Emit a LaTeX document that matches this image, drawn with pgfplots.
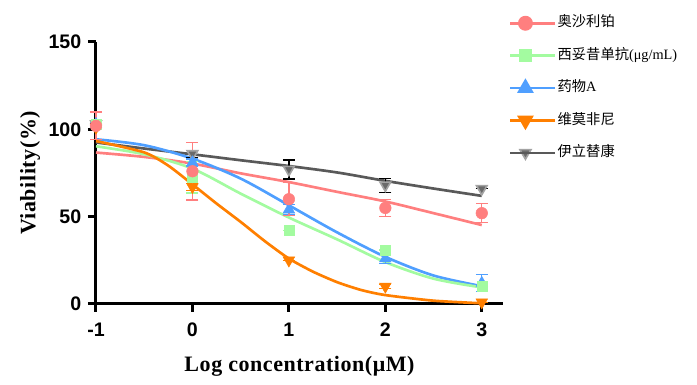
\documentclass[border=0pt]{standalone}
\usepackage{fontspec}
\setmainfont{Liberation Serif}
\setsansfont{Liberation Sans}
\newfontfamily\cjk{Noto Sans CJK SC}
\newfontfamily\labelfont[LetterSpace=2.5]{Liberation Serif}
\usepackage{pgfplots}
\pgfplotsset{compat=1.18}
\definecolor{cred}{HTML}{FF7F7F}
\definecolor{cgreen}{HTML}{A3FBA0}
\definecolor{cblue}{HTML}{4F9FFF}
\definecolor{corange}{HTML}{FF7F00}
\definecolor{cgrayline}{HTML}{595959}
\definecolor{cgraymark}{HTML}{6A6A6A}
\definecolor{cgrayedge}{HTML}{A3A3A3}

% fitted curves
\pgfplotstableread{
x gray red blue green
-1 92.5 86.7 94.3 90.3
-0.5 89 84.2 90.9 85.7
0 85.7 80.4 83.2 77.5
0.5 82.3 74.8 71.8 63.2
1 79 69.8 56.5 49.5
1.5 75.3 64.2 41 37
2 70.5 58.7 27 24
2.5 66.1 52 16.3 14.5
3 61.9 45.2 10.2 9.5
}\curves
\pgfplotstableread{
x y
-1 93.3
-0.5 86.8
-0.25 79.2
0 68.5
0.25 57.5
0.5 47
0.75 36
1 26
1.25 18.5
1.5 12.5
1.75 8
2 5.1
2.5 1.9
3 0.4
}\orangecurve
% measured points with error
\pgfplotstableread{
x y e
-1 102 8
0 76 16.5
1 60 9.5
2 55 5
3 52 5.5
}\redpts
\pgfplotstableread{
x y e
-1 103 2
0 72.5 9
1 42 0
2 31 0
3 10 0
}\greenpts
\pgfplotstableread{
x y e
-1 103 1
0 81 2
1 54 3
2 26 3
3 12 5
}\bluepts
\pgfplotstableread{
x y e
-1 101 0
0 67 2
1 25 0
2 10 1
3 1 0
}\orangepts
\pgfplotstableread{
x y e
-1 103 0
0 86 2
1 77 5.5
2 68 4
3 66 0
}\graypts

\begin{document}
\begin{tikzpicture}
\path[use as bounding box] (-72pt,-60.75pt) rectangle (450.75pt,228pt);
\begin{axis}[
  at={(0,0)}, anchor=south west,
  scale only axis,
  width=305.25pt, height=196.5pt,
  xmin=-1, xmax=3.22, ymin=0, ymax=150,
  axis x line*=bottom, axis y line*=left,
  axis line style={line width=2.25pt, -},
  tick align=outside,
  major tick length=6pt,
  tick style={line width=2.25pt, black},
  xtick={-1,0,1,2,3}, xticklabels={-1,0,1,2,3},
  ytick={0,50,100,150}, yticklabels={0,50,100,150},
  tick label style={font=\sffamily\bfseries\fontsize{14.7}{16}\selectfont},
  xticklabel style={yshift=-4.5pt},
  yticklabel style={xshift=-1.5pt},
  xlabel={Log concentration(μM)},
  ylabel={Viability(\%)},
  label style={font=\labelfont\bfseries\fontsize{16.5}{18}\selectfont},
  xlabel style={at={(axis description cs:0.5,0)}, anchor=center, yshift=-46.5pt},
  ylabel style={at={(axis description cs:0,0.5)}, anchor=center, yshift=49.5pt},
  clip=false,
  legend style={at={(axis description cs:1,1)}, anchor=north west,
    xshift=4.25pt, yshift=20.5pt, draw=none, fill=none, inner sep=0pt,
    font=\fontsize{10.7}{13}\selectfont, row sep=11.8pt,
    nodes={inner sep=1pt, text height=8pt, text depth=2.5pt}},
  legend cell align=left,
  legend image code/.code={
    \draw[#1, mark repeat=2, mark phase=2] plot coordinates {(0cm,0cm) (0.4cm,0cm) (0.8cm,0cm)};
    \path (0cm,0cm) -- (1.18cm,0cm);
  },
]
% legend entries
\addlegendimage{cred, line width=2pt, mark=*, mark size=4.6pt, mark options={solid, fill=cred, draw=cred}}
\addlegendentry{{\cjk 奥沙利铂}}
\addlegendimage{cgreen, line width=2pt, mark=square*, mark size=4pt, mark options={solid, fill=cgreen, draw=cgreen}}
\addlegendentry{{\cjk 西妥昔单抗}(μg/mL)}
\addlegendimage{cblue, line width=2pt, mark=triangle*, mark size=5.3pt, mark options={solid, fill=cblue, draw=cblue}}
\addlegendentry{{\cjk 药物}A}
\addlegendimage{corange, line width=2pt, mark=triangle*, mark size=5.3pt, mark options={solid, fill=corange, draw=corange, rotate=180}}
\addlegendentry{{\cjk 维莫非尼}}
\addlegendimage{cgrayline, line width=2pt, mark=triangle*, mark size=4.8pt, mark options={solid, fill=cgraymark, draw=cgrayedge, line width=1.2pt, rotate=180}}
\addlegendentry{{\cjk 伊立替康}}

% curves
\addplot[forget plot, cgrayline, line width=2pt, smooth] table[x=x, y=gray] {\curves};
\addplot[forget plot, cred, line width=2pt, smooth] table[x=x, y=red] {\curves};
\addplot[forget plot, cblue, line width=2pt, smooth] table[x=x, y=blue] {\curves};
\addplot[forget plot, cgreen, line width=2pt, smooth] table[x=x, y=green] {\curves};
\addplot[forget plot, corange, line width=2pt, smooth, tension=0.4] table[x=x, y=y] {\orangecurve};

% points with error bars
\addplot[forget plot, only marks, mark=triangle*, mark size=4.6pt,
  mark options={fill=cgraymark, draw=cgrayedge, line width=1.2pt, rotate=180},
  error bars/.cd, y dir=both, y explicit,
  error bar style={line width=1pt, black},
  error mark options={rotate=90, mark size=4.5pt, line width=1pt, black}]
  table[x=x, y=y, y error=e] {\graypts};
\addplot[forget plot, only marks, mark=triangle*, mark size=5pt,
  mark options={fill=corange, draw=corange, rotate=180},
  error bars/.cd, y dir=both, y explicit,
  error bar style={line width=1pt, corange},
  error mark options={rotate=90, mark size=4.5pt, line width=1pt, corange}]
  table[x=x, y=y, y error=e] {\orangepts};
\addplot[forget plot, only marks, mark=triangle*, mark size=5pt,
  mark options={fill=cblue, draw=cblue},
  error bars/.cd, y dir=both, y explicit,
  error bar style={line width=1pt, cblue},
  error mark options={rotate=90, mark size=4.5pt, line width=1pt, cblue}]
  table[x=x, y=y, y error=e] {\bluepts};
\addplot[forget plot, only marks, mark=square*, mark size=3.75pt,
  mark options={fill=cgreen, draw=cgreen},
  error bars/.cd, y dir=both, y explicit,
  error bar style={line width=1pt, cgreen},
  error mark options={rotate=90, mark size=4.5pt, line width=1pt, cgreen}]
  table[x=x, y=y, y error=e] {\greenpts};
\addplot[forget plot, only marks, mark=*, mark size=4.35pt,
  mark options={fill=cred, draw=cred},
  error bars/.cd, y dir=both, y explicit,
  error bar style={line width=1pt, cred},
  error mark options={rotate=90, mark size=4.5pt, line width=1pt, cred}]
  table[x=x, y=y, y error=e] {\redpts};
\end{axis}
\end{tikzpicture}
\end{document}
